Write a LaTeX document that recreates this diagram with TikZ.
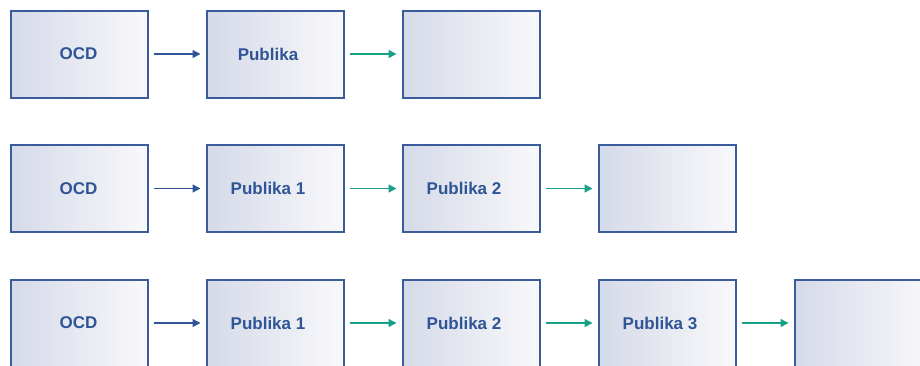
\documentclass[tikz,border=0pt]{standalone}
\usepackage{fontspec}
\setmainfont{Liberation Sans}
\usetikzlibrary{arrows.meta}
\definecolor{boxline}{HTML}{3A5C9C}
\definecolor{boxleft}{HTML}{D5DAE8}
\definecolor{boxright}{HTML}{F9F9FB}
\definecolor{txtblue}{HTML}{2F5597}
\definecolor{arrblue}{HTML}{2F5597}
\definecolor{arrteal}{HTML}{16A085}
\tikzset{
  pbox/.style={draw=boxline, line width=2pt, left color=boxleft, right color=boxright,
    minimum width=137pt, minimum height=87pt, inner sep=0pt, anchor=north west},
  lbl/.style={font=\fontsize{17pt}{19pt}\selectfont\bfseries, text=txtblue, inner sep=0pt},
  arrb/.style={draw=arrblue, line width=1.5pt, -{Triangle[length=8pt,width=8pt]}},
  arrt/.style={draw=arrteal, line width=1.5pt, -{Triangle[length=8pt,width=8pt]}}
}
\begin{document}
\begin{tikzpicture}[x=1pt,y=-1pt]
\useasboundingbox (0,0) rectangle (920,365);
\clip (0,0) rectangle (920,365);
% row 1
\node[pbox] (a1) at (9.5,9.5) {};
\node[pbox] (a2) at (205.5,9.5) {};
\node[pbox] (a3) at (401.5,9.5) {};
\node[lbl] (ta1) at ([xshift=-0.5pt]a1.center) {OCD};
\node[lbl] (ta2) at ([xshift=-7pt]a2.center) {Publika};
\draw[arrb] ([xshift=5pt]a1.east) -- ([xshift=-5pt]a2.west);
\draw[arrt] ([xshift=5pt]a2.east) -- ([xshift=-5pt]a3.west);
% row 2
\node[pbox] (b1) at (9.5,144) {};
\node[pbox] (b2) at (205.5,144) {};
\node[pbox] (b3) at (401.5,144) {};
\node[pbox] (b4) at (597.5,144) {};
\node[lbl] (tb1) at ([xshift=-0.5pt]b1.center) {OCD};
\node[lbl] (tb2) at ([xshift=-7pt]b2.center) {Publika 1};
\node[lbl] (tb3) at ([xshift=-7pt]b3.center) {Publika 2};
\draw[arrb] ([xshift=5pt]b1.east) -- ([xshift=-5pt]b2.west);
\draw[arrt] ([xshift=5pt]b2.east) -- ([xshift=-5pt]b3.west);
\draw[arrt] ([xshift=5pt]b3.east) -- ([xshift=-5pt]b4.west);
% row 3
\node[pbox] (c1) at (9.5,278.5) {};
\node[pbox] (c2) at (205.5,278.5) {};
\node[pbox] (c3) at (401.5,278.5) {};
\node[pbox] (c4) at (597.5,278.5) {};
\node[pbox] (c5) at (793.5,278.5) {};
\node[lbl] (tc1) at ([xshift=-0.5pt]c1.center) {OCD};
\node[lbl] (tc2) at ([xshift=-7pt]c2.center) {Publika 1};
\node[lbl] (tc3) at ([xshift=-7pt]c3.center) {Publika 2};
\node[lbl] (tc4) at ([xshift=-7pt]c4.center) {Publika 3};
\draw[arrb] ([xshift=5pt]c1.east) -- ([xshift=-5pt]c2.west);
\draw[arrt] ([xshift=5pt]c2.east) -- ([xshift=-5pt]c3.west);
\draw[arrt] ([xshift=5pt]c3.east) -- ([xshift=-5pt]c4.west);
\draw[arrt] ([xshift=5pt]c4.east) -- ([xshift=-5pt]c5.west);
\end{tikzpicture}
\end{document}
